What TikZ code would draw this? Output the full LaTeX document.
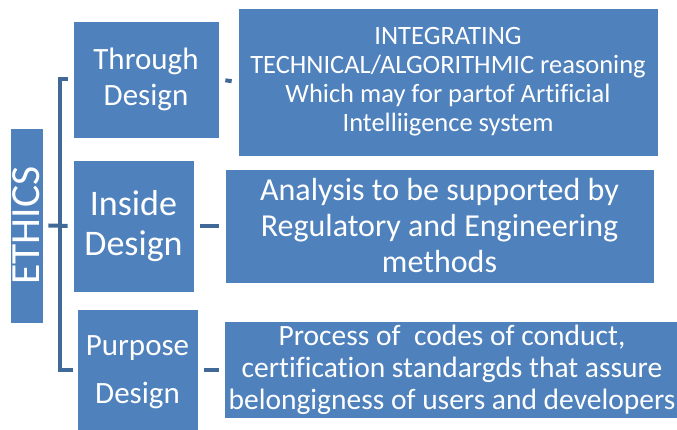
\documentclass[tikz,border=0pt]{standalone}
\usepackage{fontspec}
\setmainfont{Carlito}[Ligatures=NoCommon]
\definecolor{boxblue}{HTML}{4F81BD}
\definecolor{linkblue}{HTML}{416997}

\begin{document}
\begin{tikzpicture}[x=1pt, y=-1pt,
        box/.style={rectangle, draw=white, line width=0.8pt, fill=boxblue, text=white, align=center, inner sep=0pt},
        link/.style={draw=linkblue, line width=4pt}]
        \useasboundingbox (0,0) rectangle (677,430);

        \node[box, minimum width=33pt, minimum height=195pt, font=\fontsize{41.5}{48}\selectfont] (ethics) at (26.5,225.5) {\rotatebox{90}{ETHICS}};

        \node[box, minimum width=146pt, minimum height=117pt, font=\fontsize{31}{36}\selectfont] (through) at (146,79.5) {Through\\Design};
        \node[box, minimum width=121pt, minimum height=132pt, font=\fontsize{36}{40}\selectfont] (inside) at (133.5,226) {Inside\\Design};
        \node[box, minimum width=121pt, minimum height=127pt, font=\fontsize{31}{48}\selectfont] (purpose) at (137.5,372.5) {Purpose\\Design};

        \node[box, minimum width=420pt, minimum height=148pt, font=\fontsize{26.5}{29}\selectfont] (tech) at (448,82) {INTEGRATING\\TECHNICAL/ALGORITHMIC reasoning\\Which may for partof Artificial\\Intelliigence system};
        \node[box, minimum width=429pt, minimum height=114pt, font=\fontsize{32}{36}\selectfont] (analysis) at (439.5,226) {Analysis to be supported by\\Regulatory and Engineering\\methods};
        \node[box, minimum width=456pt, minimum height=97pt, font=\fontsize{29.5}{32}\selectfont] (process) at (452,369.5) {Process of \ codes of conduct,\\certification standargds that assure\\belongigness of users and developers};

        % bracket from ETHICS to the three designs
        \draw[link] ([xshift=-5pt]through.west) -- ++(-8,0) |- ([xshift=-4pt]purpose.west |- process.west);
        \draw[link] ([xshift=5pt]ethics.east) -- ([xshift=-5pt]inside.west);

        \draw[link, shorten <=6pt, shorten >=6pt] (through.east) -- (tech.west);
        \draw[link, shorten <=6pt, shorten >=6pt] (inside.east) -- (analysis.west);
        \draw[link, shorten <=6pt, shorten >=5pt] (purpose.east |- process.west) -- (process.west);
    \end{tikzpicture}
\end{document}
